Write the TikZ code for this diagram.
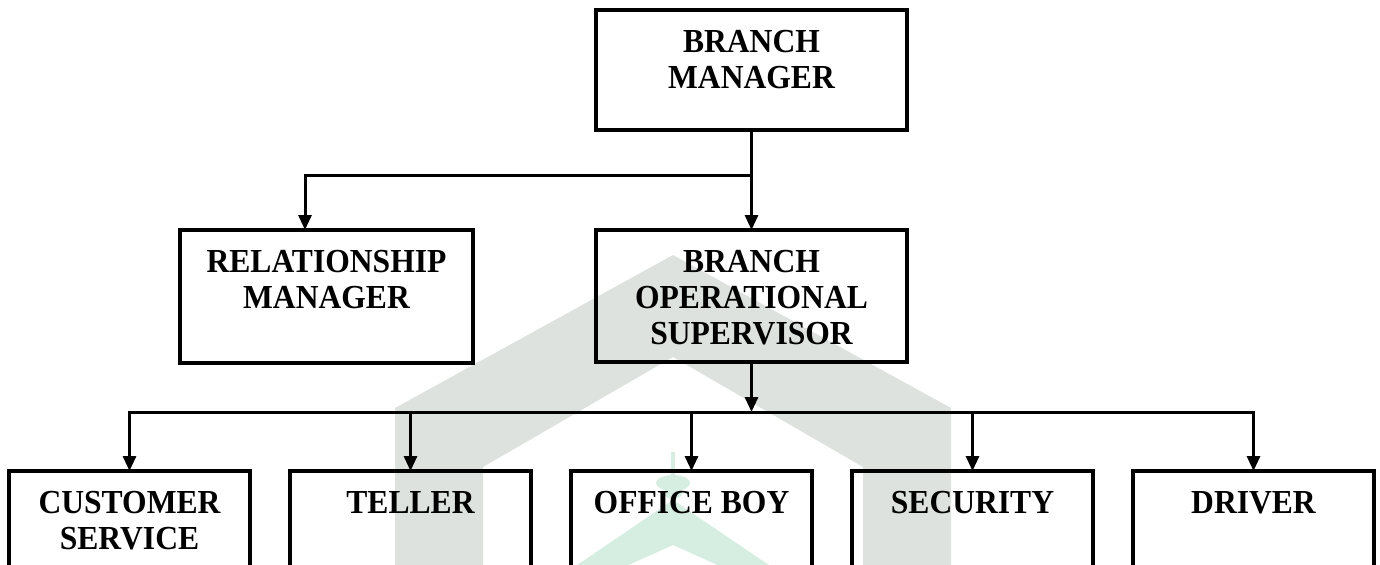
\documentclass[tikz,border=0pt]{standalone}
\usepackage{fontspec}
\setmainfont[FakeStretch=0.94]{Liberation Serif}
\usetikzlibrary{arrows.meta,positioning}
\definecolor{wmgray}{RGB}{221,226,223}
\definecolor{wmgreen}{RGB}{214,238,225}
\newcommand{\boxlabel}[3]{\parbox[t][#2][t]{#1}{\centering\vspace*{10.3pt}#3}}

\begin{document}
\begin{tikzpicture}[
  x=0.5pt, y=-0.5pt,
  font=\fontsize{16.8}{18}\selectfont\bfseries,
  box/.style={draw, line width=2pt, inner sep=0pt, outer sep=0pt},
  arr/.style={-{Triangle[length=7.5pt,width=6.5pt]}, line width=1.5pt}
]
  \useasboundingbox (0,0) rectangle (1380,564);
  \clip (0,0) rectangle (1380,564);

  % watermark behind the chart
  \fill[wmgray] (395,600) -- (395,408) -- (673,255) -- (951,408) -- (951,600)
    -- (863,600) -- (863,467) -- (673,357) -- (483,467) -- (483,600) -- cycle;
  \fill[wmgreen] (555,580) -- (673,500) -- (791,580) -- (751,580) -- (673,545) -- (595,580) -- cycle;
  \fill[wmgreen] (671,452) rectangle (675,478);
  \fill[wmgreen] (673,483) ellipse [x radius=17, y radius=8];
  \fill[wmgreen] (673,493) ellipse [x radius=9, y radius=6];

  % top levels
  \node[box, anchor=north west] (bm) at (596,10) {\boxlabel{155.5pt}{60pt}{BRANCH\\MANAGER}};
  \node[box, below=50pt of bm] (bos) {\boxlabel{155.5pt}{66pt}{BRANCH\\OPERATIONAL\\SUPERVISOR}};
  \node[box, left=61.5pt of bos.north west, anchor=north east] (rm) {\boxlabel{146.5pt}{66.5pt}{RELATIONSHIP\\MANAGER}};

  % staff row
  \node[box, anchor=north west] (cs) at (9,471) {\boxlabel{120.5pt}{70pt}{CUSTOMER\\SERVICE}};
  \node[box, right=20pt of cs] (tel) {\boxlabel{120.5pt}{70pt}{TELLER}};
  \node[box, right=20pt of tel] (ob) {\boxlabel{120.5pt}{70pt}{OFFICE BOY}};
  \node[box, right=20pt of ob] (sec) {\boxlabel{120.5pt}{70pt}{SECURITY}};
  \node[box, right=20pt of sec] (drv) {\boxlabel{120.5pt}{70pt}{DRIVER}};

  \coordinate (split) at (bm.south |- 0,175);
  \coordinate (bar) at (0,412);

  \draw[arr] (bm.south) -- (bm.south |- bos.north);
  \draw[arr] (split) -| ([xshift=-10.75pt]rm.north);
  \draw[arr] (bos.south) -- (bos.south |- bar);
  \draw[arr] (bos.south |- bar) -| (cs.north);
  \draw[arr] (bos.south |- bar) -| (drv.north);
  \draw[arr] (tel.north |- bar) -- (tel.north);
  \draw[arr] (ob.north |- bar) -- (ob.north);
  \draw[arr] (sec.north |- bar) -- (sec.north);
\end{tikzpicture}
\end{document}
